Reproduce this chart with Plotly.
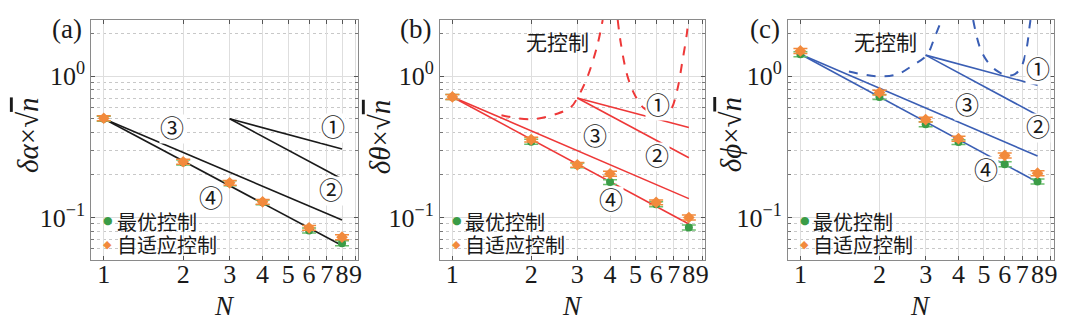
import numpy as np
import plotly.graph_objects as go

W, H = 1080, 330

# ---------------- data ----------------
N_pts = [1, 2, 3, 4, 6, 8]

a_opt = [0.500, 0.245, 0.175, 0.128, 0.081, 0.0657]
a_ada = [0.504, 0.248, 0.176, 0.129, 0.0845, 0.0725]
b_opt = [0.713, 0.344, 0.234, 0.178, 0.124, 0.085]
b_ada = [0.713, 0.356, 0.236, 0.204, 0.128, 0.100]
c_opt = [1.43, 0.713, 0.457, 0.342, 0.238, 0.180]
c_ada = [1.51, 0.766, 0.493, 0.361, 0.275, 0.206]

line_labels = ["①", "②", "③", "④"]
line_N = {"①": [3, 8], "②": [3, 8], "③": [1, 8], "④": [1, 8]}
a_lines_y = {"①": [0.50, 0.305], "②": [0.50, 0.187], "③": [0.50, 0.096], "④": [0.50, 0.0633]}
b_lines_y = {"①": [0.702, 0.433], "②": [0.702, 0.265], "③": [0.713, 0.136], "④": [0.713, 0.090]}
c_lines_y = {"①": [1.41, 0.863], "②": [1.41, 0.529], "③": [1.43, 0.272], "④": [1.43, 0.178]}

# "无控制" (no control) dashed curves, two branches each
b_free1_N = [1.54, 2.0, 2.53, 2.84, 3.0, 3.28, 3.59, 3.75]
b_free1_y = [0.53, 0.495, 0.545, 0.605, 0.70, 0.99, 1.70, 2.5]
b_free2_N = [4.28, 4.40, 4.67, 5.02, 5.41, 6.0, 6.44, 6.83, 7.22, 7.57, 7.86, 7.95]
b_free2_y = [2.5, 1.70, 0.99, 0.713, 0.59, 0.54, 0.53, 0.58, 0.796, 1.30, 2.0, 2.5]
c_free1_N = [1.53, 1.95, 2.33, 2.69, 3.03, 3.25, 3.45]
c_free1_y = [1.08, 1.00, 1.03, 1.20, 1.41, 1.90, 2.5]
c_free2_N = [4.55, 4.82, 5.11, 5.57, 6.08, 6.54, 6.93, 7.25, 7.46, 7.52]
c_free2_y = [2.5, 1.61, 1.30, 1.10, 1.016, 1.03, 1.16, 1.53, 2.24, 2.5]

x_ticks = [1, 2, 3, 4, 5, 6, 7, 8, 9]
y_ticks = [0.1, 1]
y_ticktext = ["10<sup>−1</sup>", "10<sup>0</sup>"]
y_minor = [0.06, 0.07, 0.08, 0.09, 0.2, 0.3, 0.4, 0.5, 0.6, 0.7, 0.8, 0.9, 2]

legend_names = ["最优控制", "自适应控制"]
free_label = "无控制"
panel_labels = ["(a)", "(b)", "(c)"]
y_titles = ["<i>δα</i>×√<span style='text-decoration:overline'><i>n</i></span>",
            "<i>δθ</i>×√<span style='text-decoration:overline'><i>n</i></span>",
            "<i>δϕ</i>×√<span style='text-decoration:overline'><i>n</i></span>"]

# ---------------- style ----------------
SERIF = "Liberation Serif"
CJK = "Noto Sans CJK SC"
GREEN = "#3a9c46"
ORANGE = "#f28a3c"
line_colors = ["#1a1a1a", "#ee3838", "#3a5eb4"]
TXT = "#1a1a1a"

# panel pixel boxes (left, right)
px_left = [91.7, 441.7, 791.0]
px_right = [359.7, 707.7, 1057.7]
px_top, px_bot = 20, 260

def px(x):
    return x / W

def py(y):
    return 1 - y / H

fig = go.Figure()

panels = [
    (a_opt, a_ada, a_lines_y, None),
    (b_opt, b_ada, b_lines_y, [(b_free1_N, b_free1_y), (b_free2_N, b_free2_y)]),
    (c_opt, c_ada, c_lines_y, [(c_free1_N, c_free1_y), (c_free2_N, c_free2_y)]),
]

for i, (opt, ada, lines_y, free) in enumerate(panels):
    xa = "x" if i == 0 else f"x{i+1}"
    ya = "y" if i == 0 else f"y{i+1}"
    col = line_colors[i]
    if free:
        for fN, fy in free:
            fig.add_trace(go.Scatter(x=fN, y=fy, mode="lines", xaxis=xa, yaxis=ya, name=free_label,
                                     line=dict(color=col, width=2, dash="dash", shape="spline", smoothing=1.0),
                                     showlegend=False, hoverinfo="skip"))
    for lab in line_labels:
        fig.add_trace(go.Scatter(x=line_N[lab], y=lines_y[lab], mode="lines", xaxis=xa, yaxis=ya,
                                 line=dict(color=col, width=1.6), showlegend=False, name=lab))
    fig.add_trace(go.Scatter(x=N_pts, y=opt, mode="markers", xaxis=xa, yaxis=ya, name=legend_names[0],
                             showlegend=False,
                             marker=dict(color=GREEN, size=8, symbol="circle"),
                             error_y=dict(type="percent", value=4, width=7, thickness=1.5, color="#6cbf6f")))
    fig.add_trace(go.Scatter(x=N_pts, y=ada, mode="markers", xaxis=xa, yaxis=ya, name=legend_names[1],
                             showlegend=False,
                             marker=dict(color=ORANGE, size=9, symbol="diamond"),
                             error_y=dict(type="percent", value=4, width=7, thickness=1.5, color=ORANGE)))

axis_common_x = dict(type="log", range=[-0.047, 0.965], tickmode="array", tickvals=x_ticks,
                     ticktext=[str(v) for v in x_ticks], tickangle=0, ticklabelstandoff=-9,
                     ticks="inside", ticklen=4, tickcolor="#555", showline=True, linecolor="#8a8a8a",
                     linewidth=1, mirror="ticks", showgrid=True, gridcolor="#dedede", gridwidth=1,
                     zeroline=False, tickfont=dict(family=SERIF, size=26, color=TXT))
axis_common_y = dict(type="log", range=[np.log10(0.05), np.log10(2.5)], tickmode="array",
                     tickvals=y_ticks, ticktext=y_ticktext, tickangle=0,
                     ticks="inside", ticklen=4, tickcolor="#555", showline=True, linecolor="#8a8a8a",
                     linewidth=1, mirror="ticks", showgrid=True, gridcolor="#dedede", gridwidth=1,
                     zeroline=False, tickfont=dict(family=SERIF, size=26, color=TXT),
                     minor=dict(tickmode="array", tickvals=y_minor, ticks="inside", ticklen=3,
                                tickcolor="#777", showgrid=True, gridcolor="#c8c8c8",
                                griddash="dot", gridwidth=1))

layout = dict(width=W, height=H, margin=dict(l=0, r=0, t=0, b=0),
              paper_bgcolor="white", plot_bgcolor="white", showlegend=False)

annotations = []

def ann(text, x, y, size, family, color=TXT, **kw):
    d = dict(text=text, x=px(x), y=py(y), xref="paper", yref="paper", showarrow=False,
             xanchor=kw.pop("xanchor", "center"), yanchor=kw.pop("yanchor", "middle"),
             font=dict(family=family, size=size, color=color))
    d.update(kw)
    annotations.append(d)

legend_text = "<br>".join(f"<span style='font-size:20px'>{n}</span>" for n in legend_names)

for i in range(3):
    xk = "xaxis" if i == 0 else f"xaxis{i+1}"
    yk = "yaxis" if i == 0 else f"yaxis{i+1}"
    layout[xk] = dict(axis_common_x, domain=[px(px_left[i]), px(px_right[i])],
                      anchor="y" if i == 0 else f"y{i+1}")
    layout[yk] = dict(axis_common_y, domain=[py(px_bot), py(px_top)],
                      anchor="x" if i == 0 else f"x{i+1}")
    cx = (px_left[i] + px_right[i]) / 2
    ann("<i>N</i>", cx, 306, 27, SERIF)
    # legend (drawn as text, inside each panel, lower left)
    lx = px_left[i] + 16.6
    ann("●", lx, 220.5, 11, "DejaVu Sans", color=GREEN)
    ann("◆", lx, 244.5, 11, "DejaVu Sans", color=ORANGE)
    ann(legend_text, lx + 6.7, 232.5, 18, CJK, xanchor="left", align="left")

panel_label_pos = [(67.5, 29), (416.7, 29), (767.5, 29)]
ytitle_pos = [(28, 135), (381, 136.7), (734, 135)]
for i in range(3):
    ann(panel_labels[i], panel_label_pos[i][0], panel_label_pos[i][1], 27, SERIF)
    ann(y_titles[i], ytitle_pos[i][0], ytitle_pos[i][1], 29, SERIF, textangle=-90)

circ_pos = [
    {"①": (334.3, 128.3), "②": (332.7, 191), "③": (172.7, 129.3), "④": (212, 199.3)},
    {"①": (660, 106), "②": (659, 156.7), "③": (597.3, 137.3), "④": (613.3, 201)},
    {"①": (1041.7, 70), "②": (1041.7, 127.7), "③": (970.7, 106), "④": (990, 170.7)},
]
for i in range(3):
    for lab, (x, y) in circ_pos[i].items():
        ann(lab, x, y, 24, "DejaVu Serif, " + CJK, bgcolor="white", borderpad=0)

for (x, y) in [(560, 40.7), (888.3, 40.7)]:
    ann(free_label, x, y, 21, CJK)

layout["annotations"] = annotations
fig.update_layout(**layout)

fig.write_html("out.html")
